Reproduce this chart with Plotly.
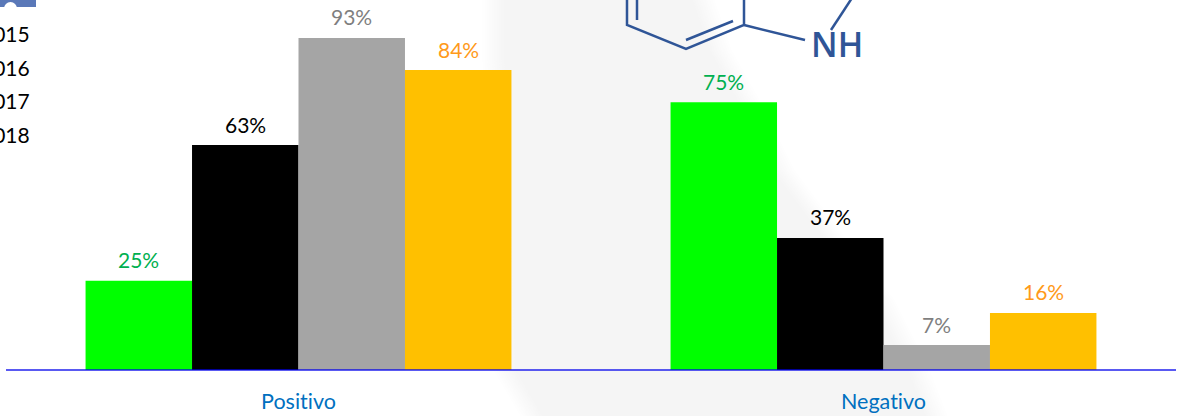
import plotly.graph_objects as go

W, H = 1184, 416
categories = ["Positivo", "Negativo"]
series_names = ["2015", "2016", "2017", "2018"]
values_2015 = [25, 75]
values_2016 = [63, 37]
values_2017 = [93, 7]
values_2018 = [84, 16]
series_values = [values_2015, values_2016, values_2017, values_2018]
bar_colors = ["#00FF00", "#000000", "#A5A5A5", "#FFC000"]
label_colors = ["#00B050", "#000000", "#7F7F7F", "#FF9A1A"]
legend_y_px = [33, 67, 100, 134]

FONT = "Lato"
BARGAP = 0.272
bar_w = (1 - BARGAP) / 4
PX_PER_UNIT = 3.57
PAD_PX = 4  # room under zero so the baseline is not clipped


def px(pts):
    return "M" + " L".join(f"{x / W:.5f},{1 - y / H:.5f}" for x, y in pts)


shapes = []
# soft grey watermark behind the chart: stacked polygons give a faded edge
left_edge = [(492, 0), (492, 60), (498, 200), (503, 370), (512, 385), (530, 416)]
right_edge = [(938, 416), (920, 370), (885, 300), (830, 230), (785, 170), (750, 100), (722, 50), (705, 0)]
steps = 11
for k in range(steps):
    d = 24 * (1 - k / (steps - 1)) - 12  # outer to inner
    level = 255 - k
    col = f"rgb({level},{level},{level})"
    pts = [(x - d, y) for x, y in left_edge] + [(x + d, y) for x, y in right_edge]
    shapes.append(dict(type="path", xref="paper", yref="paper", path=px(pts) + " Z",
                       fillcolor=col, line_width=0, layer="below"))

# molecule drawing
MOL = "#2F5597"
for seg in [
    [(627, -2), (627, 25), (686, 49), (744, 25), (744, -2)],
    [(637, -2), (637, 20)],
    [(686, 40), (733, 21)],
    [(744, 25), (805, 40)],
    [(831, 30), (852, -2)],
]:
    shapes.append(dict(type="path", xref="paper", yref="paper", path=px(seg),
                       line=dict(color=MOL, width=2.5), fillcolor="rgba(0,0,0,0)", layer="above"))

# fragment of a logo at the top-left corner
shapes.append(dict(type="rect", xref="paper", yref="paper", x0=0, x1=36 / W, y0=1 - 7 / H, y1=1,
                   fillcolor="#5A78B8", line_width=0, layer="below"))
shapes.append(dict(type="circle", xref="paper", yref="paper", x0=4 / W, x1=17 / W, y0=1 - 15 / H, y1=1 - 2 / H,
                   fillcolor="#FFFFFF", line_width=0, layer="below"))

# baseline, drawn over the bars so that it tints them as in the reference
shapes.append(dict(type="line", xref="x domain", yref="y", x0=0, x1=1, y0=0, y1=0,
                   line=dict(color="rgba(0,0,235,0.65)", width=2), layer="above"))

fig = go.Figure()
for name, vals, col in zip(series_names, series_values, bar_colors):
    fig.add_trace(go.Bar(name=name, x=categories, y=vals, marker=dict(color=col, line_width=0)))

annotations = []
for j, (vals, col) in enumerate(zip(series_values, label_colors)):
    for i, v in enumerate(vals):
        annotations.append(dict(x=i + (j - 1.5) * bar_w, y=v, xref="x", yref="y", text=f"{v}%",
                                showarrow=False, yanchor="bottom", yshift=6.5,
                                font=dict(family=FONT, size=21, color=col)))
for name, y in zip(series_names, legend_y_px):
    annotations.append(dict(x=32 / W, y=1 - y / H, xref="paper", yref="paper", text=name, showarrow=False,
                            xanchor="right", yanchor="middle", font=dict(family=FONT, size=21, color="#000000")))
annotations.append(dict(x=837 / W, y=1 - 44 / H, xref="paper", yref="paper", text="NH", showarrow=False,
                        xanchor="center", yanchor="middle",
                        font=dict(family="Open Sans", size=34, color=MOL, weight=600)))

fig.update_layout(
    width=W, height=H, margin=dict(l=0, r=0, t=0, b=0),
    barmode="group", bargap=BARGAP, bargroupgap=0, showlegend=False,
    paper_bgcolor="#FFFFFF", plot_bgcolor="rgba(0,0,0,0)",
    shapes=shapes, annotations=annotations,
    xaxis=dict(domain=[6 / W, 1176 / W], showline=False,
               showgrid=False, zeroline=False, ticks="", ticklabelstandoff=12,
               tickfont=dict(family=FONT, size=21.5, color="#0070C0")),
    yaxis=dict(domain=[1 - (370 + PAD_PX) / H, 1], range=[-PAD_PX / PX_PER_UNIT, 370 / PX_PER_UNIT],
               visible=False, showgrid=False, zeroline=False),
)
fig.write_html("out.html", config={"displayModeBar": False},
               post_script="document.body.style.margin='0';document.body.style.overflow='hidden';"
                           "var s=document.createElement('style');"
                           "s.textContent='text{font-variant-ligatures:none !important}';"
                           "document.head.appendChild(s);")
